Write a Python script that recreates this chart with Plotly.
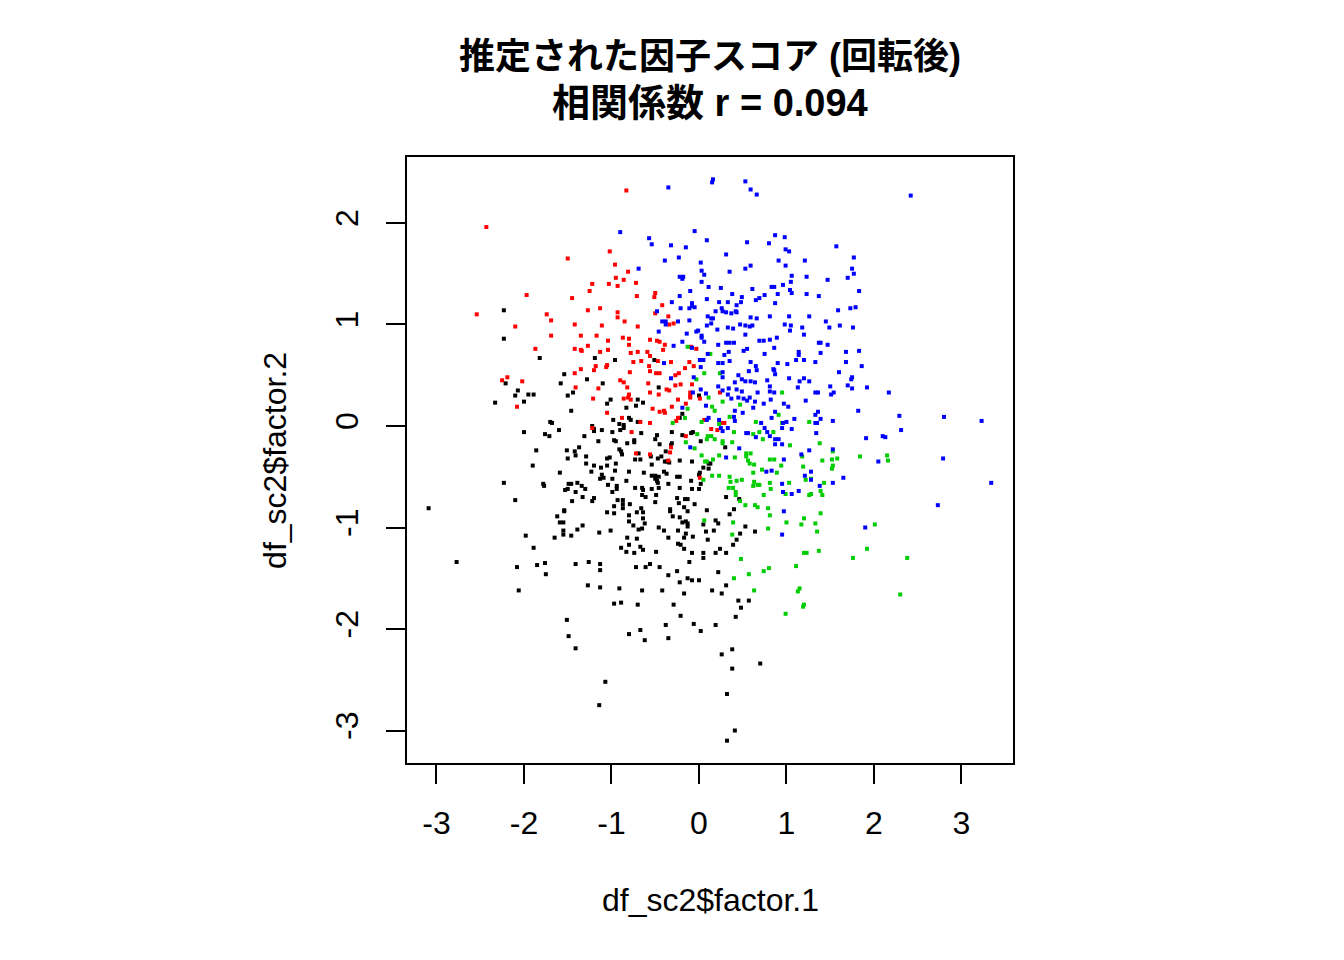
import plotly.graph_objects as go

# ---- data ----
black_x = [-2.23,-2.23,-1.82,-1.19,
 -2.21,-2.07,-2.10,-1.95,-1.89,-2.00,-2.33,-1.54,-1.58,-1.28,-1.10,-1.44,-1.50,-1.05,-1.46,-1.70,-1.68,-1.22,-1.20,-1.20,-1.11,-1.60,-2.00,-1.76,-1.71,-1.31,-1.15,-1.37,-1.86,-1.51,-1.42,-1.41,-1.50,-1.29,-1.05,-1.29,-1.20,-1.12,-1.05,-1.90,-1.23,-1.59,-1.11,-1.13,-1.09,-2.23,-1.78,-1.77,-1.49,-1.46,-1.39,-1.50,-1.53,-1.34,-1.30,-1.04,-1.41,-1.33,-1.20,-1.22,-1.45,-2.10,-3.09,-1.54,-1.54,-1.05,-1.62,-1.59,-1.55,-1.33,-1.55,-1.55,-1.39,-1.14,-1.98,-1.65,-1.46,-1.89,
 -2.77,-2.08,-1.85,-1.76,-1.75,-1.41,-1.26,-1.13,-1.13,-2.06,-1.27,-1.13,-1.51,-1.49,-1.41,-1.07,-1.14,
 -0.72,-0.61,-0.56,-0.45,-0.35,-0.25,-0.11,-0.22,-0.13,-0.08,0.00,0.22,0.31,-0.91,-0.65,-0.42,-0.17,0.15,0.26,-0.97,-0.89,-0.70,-0.29,0.45,0.57,0.48,0.42,-0.21,-0.38,-0.06,0.19,-0.67,0.02,-0.80,-0.62,-0.35,0.38,0.26,0.38,0.70,0.32,0.41,0.32,
 -0.96,-0.51,-0.46,-1.01,-0.70,-0.64,-0.72,-0.83,0.00,-0.19,-0.98,-0.80,-0.78,-0.70,-0.22,-0.91,-0.86,
 -0.99,-0.90,-0.86,-0.66,-0.48,-0.50,-0.31,-0.19,-0.09,-0.07,-0.97,-0.95,-0.74,-0.74,-0.82,-0.45,-0.31,-0.32,0.02,0.30,-0.91,-0.89,-0.88,-0.69,-0.38,-0.43,-0.47,-0.55,-1.02,-0.73,-0.67,-0.08,-0.39,-0.37,-0.34,-0.22,-0.95,-0.54,0.11,0.13,0.11,0.05,0.01,0.00,-0.63,-0.96,-0.80,-0.54,-0.50,-0.46,-0.40,-0.37,-0.25,-0.22,-0.09,-0.99,-0.83,-0.50,-0.48,-0.47,-0.35,-0.94,-0.94,-0.73,-0.65,-0.64,-0.54,-0.46,-0.22,-0.08,0.00,0.02,-0.99,
 -0.93,-0.87,-0.87,-0.97,-0.87,-0.79,-0.65,-0.61,-0.49,-0.50,-0.25,-0.16,-0.13,-0.05,-0.23,-0.97,-0.80,-0.66,-0.64,-0.64,-0.71,-0.80,-0.75,-0.62,-1.01,-0.69,-0.65,-0.46,-0.40,-0.33,-0.33,-0.30,-0.22,-0.17,-0.13,-0.15,-0.13,-0.13,-0.19,-0.24,-0.15,-0.35,-0.17,-0.07,-0.82,-0.71,-0.80,-0.89,-0.67,-0.64,-0.83,-0.74,-0.49,-0.24,-0.21,-0.17,-0.08,0.05,0.05,0.09,0.05,0.08,0.10,0.17,0.19,0.22,0.24,0.19,0.31,0.31,0.35,0.40,0.46,0.53,0.47,0.43,0.39,0.64]
black_y = [1.14,0.86,0.67,0.67,
 0.42,0.35,0.30,0.31,0.31,0.24,0.23,0.51,0.42,0.46,0.42,0.33,0.30,0.22,0.15,0.04,0.03,0.00,-0.05,-0.03,-0.04,-0.04,-0.06,-0.08,-0.10,-0.10,-0.15,-0.21,-0.24,-0.24,-0.25,-0.29,-0.32,-0.30,-0.32,-0.37,-0.39,-0.41,-0.39,-0.39,-0.45,-0.46,-0.48,-0.52,-0.51,-0.56,-0.57,-0.59,-0.57,-0.57,-0.56,-0.62,-0.63,-0.59,-0.62,-0.58,-0.65,-0.70,-0.71,-0.74,-0.74,-0.73,-0.81,-0.83,-0.84,-0.85,-0.89,-0.95,-0.95,-0.98,-1.03,-1.07,-1.02,-1.05,-1.08,-1.10,-1.08,-1.20,
 -1.34,-1.39,-1.37,-1.35,-1.46,-1.36,-1.34,-1.36,-1.42,-1.62,-1.57,-1.59,-1.91,-2.07,-2.19,-2.52,-2.75,
 -1.39,-1.39,-1.36,-1.39,-1.47,-1.43,-1.34,-1.54,-1.50,-1.52,-1.52,-1.44,-1.57,-1.60,-1.62,-1.62,-1.65,-1.62,-1.65,-1.75,-1.74,-1.76,-1.76,-1.72,-1.72,-1.79,-1.88,-1.87,-1.96,-1.95,-1.96,-2.01,-2.02,-2.05,-2.11,-2.09,-2.20,-2.25,-2.39,-2.34,-2.64,-3.00,-3.10,
 0.65,0.65,0.38,0.26,0.26,0.23,0.20,0.18,0.30,0.12,0.06,0.08,0.06,0.04,0.08,0.02,0.01,
 -0.06,-0.04,-0.02,-0.07,-0.09,-0.13,-0.06,-0.09,-0.07,-0.06,-0.14,-0.15,-0.14,-0.16,-0.17,-0.18,-0.17,-0.19,-0.15,-0.21,-0.23,-0.25,-0.28,-0.27,-0.25,-0.30,-0.32,-0.30,-0.31,-0.33,-0.33,-0.35,-0.35,-0.35,-0.36,-0.34,-0.37,-0.38,-0.37,-0.37,-0.42,-0.41,-0.46,-0.48,-0.46,-0.44,-0.45,-0.49,-0.49,-0.50,-0.45,-0.47,-0.50,-0.50,-0.54,-0.52,-0.54,-0.52,-0.54,-0.56,-0.57,-0.59,-0.62,-0.61,-0.61,-0.63,-0.62,-0.61,-0.61,-0.62,-0.62,-0.57,-0.65,
 -0.73,-0.73,-0.77,-0.79,-0.81,-0.77,-0.68,-0.70,-0.68,-0.75,-0.71,-0.72,-0.72,-0.77,-0.76,-0.86,-0.88,-0.81,-0.85,-0.91,-0.85,-0.94,-0.98,-0.96,-1.03,-1.02,-1.01,-1.00,-1.03,-0.82,-0.84,-0.89,-0.90,-0.80,-0.84,-0.94,-0.96,-0.99,-0.95,-1.03,-1.06,-1.10,-1.10,-1.09,-1.10,-1.11,-1.17,-1.20,-1.19,-1.22,-1.24,-1.25,-1.24,-1.16,-1.17,-1.21,-1.25,-1.25,-1.30,-0.83,-0.97,-1.04,-1.12,-1.03,-0.93,-0.96,-1.21,-1.25,-1.25,-0.70,-0.87,-0.82,-0.72,-0.99,-1.06,-1.12,-1.17,-1.04]

red_x = [-2.43,-1.50,-1.22,-1.03,-1.25,-1.97,-1.45,-2.54,-1.74,-1.27,-1.13,-1.69,-1.42,-1.11,-2.10,-1.69,-1.35,-1.17,-1.27,-1.04,-1.87,-1.42,-1.35,-1.34,-1.13,-1.04,
 -0.83,-1.02,-0.96,-0.81,-0.95,-0.86,-0.72,-0.93,-0.50,-0.51,-0.71,-0.42,-0.50,-0.93,-0.93,-0.35,-0.85,-0.34,-0.29,-0.70,-0.87,-0.80,-0.56,-0.48,-0.45,-0.80,-0.39,-0.09,-0.03,-0.70,-0.59,-0.41,-0.78,-0.56,
 -2.25,-2.19,-2.02,-2.08,-1.42,-1.35,-1.20,-1.18,-1.06,-1.05,-1.41,-1.15,-1.21,-1.05,-1.22,
 -0.75,-0.66,-0.47,-0.32,-0.11,-0.57,-0.16,-0.06,-0.79,-0.56,-0.49,-0.45,-0.23,-0.27,-0.90,-0.86,-0.58,-0.27,-0.21,-0.08,-0.82,-0.37,-0.34,-0.56,-0.46,-0.80,-0.10,-0.10,-0.10,0.24,-0.86,-0.81,-0.78,-0.53,-0.31,-0.24,0.01,-0.15,-0.40,-0.45,-0.39,-0.88,-0.67,-0.56,-0.26,-0.24,0.06,0.29,0.25,
 -0.77,-0.15,0.14,0.21,-0.32,-0.72,-0.56,-0.33,-0.35,0.01]
red_y = [1.96,1.65,1.40,1.40,1.33,1.29,1.26,1.10,1.10,1.14,1.16,1.04,1.00,0.99,0.98,0.89,0.89,0.89,0.79,0.84,0.76,0.76,0.75,0.74,0.73,0.75,
 2.32,1.72,1.59,1.52,1.46,1.44,1.41,1.38,1.31,1.27,1.28,1.19,1.11,1.12,1.07,1.08,1.03,1.00,1.01,0.98,0.87,0.86,0.85,0.84,0.83,0.80,0.80,0.78,0.76,0.73,0.73,0.75,0.72,0.69,
 0.45,0.48,0.44,0.19,0.52,0.56,0.55,0.59,0.58,0.60,0.38,0.37,0.27,0.13,-0.02,
 0.63,0.64,0.64,0.63,0.63,0.59,0.57,0.59,0.53,0.54,0.52,0.52,0.52,0.50,0.45,0.43,0.42,0.40,0.41,0.41,0.38,0.36,0.35,0.33,0.31,0.31,0.33,0.30,0.28,0.33,0.27,0.28,0.26,0.17,0.19,0.26,0.27,0.22,0.15,0.14,0.13,0.08,0.04,0.03,0.05,0.08,0.06,0.03,0.03,
 -0.06,-0.10,-0.03,-0.04,-0.21,-0.27,-0.28,-0.26,-0.34,-0.51]

green_x = [-0.13,0.13,
 0.06,0.24,-0.03,0.95,0.11,-0.13,0.15,0.18,0.27,0.47,0.91,-0.30,-0.16,0.03,0.23,0.35,0.65,0.95,1.26,
 -0.02,0.10,0.14,0.09,0.18,0.40,0.62,0.69,0.85,0.73,0.27,0.27,0.38,1.04,-0.15,-0.05,0.03,0.16,0.23,0.41,0.54,0.59,0.54,0.81,0.86,1.18,0.07,0.09,0.56,0.58,0.63,0.94,1.19,0.05,0.15,0.23,0.35,0.36,0.43,0.49,0.62,0.72,0.89,1.22,1.28,0.63,0.67,0.62,0.69,0.81,1.03,0.34,0.39,0.42,0.82,
 0.42,0.47,0.53,0.64,0.67,0.74,0.79,0.81,0.99,1.26,0.06,0.39,0.38,0.79,1.00,1.20,1.17,1.20,1.23,0.48,
 1.38,1.53,1.41,1.52,1.58,1.84,2.15,2.16,1.53,1.52,1.43,1.39,1.41,1.28,1.39,1.33,2.01,1.35,1.37,1.92,1.76,2.38,
 0.40,0.57,0.74,0.80,1.11,0.63,1.15,1.13,1.20,1.19,0.99,2.30]
green_y = [0.78,0.71,
 0.52,0.52,0.46,0.33,0.28,0.17,0.19,0.15,0.24,0.21,0.11,0.03,0.08,0.04,0.02,0.09,0.04,0.03,0.04,
 -0.08,-0.10,-0.10,-0.13,-0.13,-0.06,-0.08,-0.06,-0.06,-0.13,-0.15,-0.17,-0.16,-0.19,-0.16,-0.22,-0.29,-0.33,-0.29,-0.31,-0.27,-0.27,-0.30,-0.33,-0.33,-0.30,-0.35,-0.35,-0.34,-0.37,-0.38,-0.39,-0.40,-0.53,-0.49,-0.49,-0.50,-0.55,-0.54,-0.53,-0.46,-0.43,-0.46,-0.53,-0.52,-0.55,-0.58,-0.59,-0.58,-0.56,-0.56,-0.61,-0.61,-0.65,-0.62,
 -0.68,-0.74,-0.78,-0.78,-0.80,-0.68,-0.81,-0.88,-0.67,-0.68,-0.93,-0.95,-1.07,-1.01,-0.95,-0.91,-0.97,-1.25,-1.25,-1.31,
 -0.17,-0.25,-0.34,-0.33,-0.32,-0.30,-0.29,-0.34,-0.39,-0.42,-0.56,-0.64,-0.68,-0.67,-0.86,-0.96,-0.97,-1.04,-1.23,-1.21,-1.30,-1.30,
 -1.50,-1.46,-1.43,-1.40,-1.38,-1.62,-1.60,-1.63,-1.76,-1.78,-1.85,-1.66]

blue_x = [0.16,0.15,0.53,0.59,0.66,-0.35,-0.90,-0.57,-0.54,-0.32,-0.15,-0.05,0.09,0.55,0.80,0.87,0.98,0.99,1.03,0.31,-0.39,-0.23,0.02,0.91,0.99,1.21,-0.69,0.03,0.06,0.35,0.53,0.59,-0.22,-0.18,-0.19,0.03,1.06,1.23,1.05,0.11,0.25,0.61,0.83,0.86,0.96,1.04,1.06,1.23,-0.10,-0.22,0.38,0.49,0.75,0.90,0.69,0.65,-0.31,-0.08,0.09,0.23,0.33,0.48,0.43,0.87,-0.08,-0.05,-0.11,-0.21,-0.48,0.26,0.27,0.31,0.37,0.42,0.43,0.19,0.10,0.14,0.16,0.59,0.66,0.81,1.03,1.26,-0.42,-0.38,-0.38,-0.24,-0.11,0.09,0.14,0.47,0.53,0.58,0.61,0.98,1.05,0.21,0.33,0.39,1.18,1.04,-0.46,-0.14,-0.03,-0.01,0.03,0.03,0.53,1.20,0.89,-0.19,0.06,0.31,0.35,0.40,0.69,0.74,0.81,-0.29,0.22,0.86,-0.08,0.10,0.29,0.34,0.51,0.55,0.75,1.14,1.14,
 2.42,1.57,1.77,1.75,1.77,1.70,1.47,1.83,1.37,1.59,1.73,1.79,1.45,1.49,1.61,1.76,1.37,1.39,1.47,1.39,1.68,1.83,
 1.33,1.68,1.86,1.60,1.75,1.74,1.50,1.70,1.75,1.92,1.33,1.36,1.54,1.51,2.17,1.82,1.36,1.33,1.39,1.53,1.33,1.35,2.29,2.80,3.23,2.31,1.34,1.91,2.10,2.13,1.53,2.05,2.79,1.28,1.28,1.65,1.53,1.38,3.34,2.73,1.90,
 -0.40,0.01,0.05,0.22,0.27,0.35,0.59,0.90,1.01,1.11,1.20,0.02,0.65,0.85,0.27,0.45,0.57,0.66,0.86,0.87,1.03,1.20,1.15,1.26,-0.32,-0.06,0.27,0.41,0.49,0.53,0.59,0.64,0.78,0.02,0.22,0.27,0.34,0.43,0.49,0.81,0.81,0.86,1.13,0.67,-0.07,0.08,0.33,0.45,0.51,0.55,0.58,0.64,0.74,0.82,0.97,1.02,1.22,-0.19,0.08,0.37,0.41,0.50,0.62,0.87,0.83,0.11,0.09,0.23,0.40,0.41,0.71,0.96,1.00,1.09,
 0.25,0.27,0.33,0.56,0.54,0.65,0.75,0.78,0.81,0.87,0.91,0.95,1.06,0.46,0.87,0.95,-0.10,0.31,0.97,1.17,1.26,0.77,0.83,1.21,0.95,0.96,1.14,
 0.97,1.06,0.95]
blue_y = [2.43,2.40,2.41,2.33,2.28,2.35,1.91,1.85,1.79,1.78,1.76,1.92,1.83,1.81,1.80,1.88,1.86,1.74,1.72,1.69,1.63,1.66,1.61,1.63,1.58,1.63,1.55,1.53,1.49,1.52,1.55,1.58,1.47,1.47,1.45,1.42,1.48,1.47,1.42,1.37,1.36,1.35,1.37,1.37,1.39,1.34,1.31,1.30,1.33,1.28,1.30,1.27,1.29,1.30,1.26,1.24,1.22,1.21,1.25,1.22,1.22,1.22,1.19,1.21,1.18,1.17,1.16,1.16,1.13,1.16,1.13,1.12,1.11,1.13,1.12,1.13,1.08,1.06,1.06,1.07,1.06,1.08,1.08,1.08,1.03,1.03,1.00,1.03,1.04,0.99,1.01,1.00,0.99,0.98,0.99,1.00,0.99,0.95,0.97,0.96,0.97,0.94,0.93,0.91,0.93,0.94,0.89,0.87,0.90,0.90,0.87,0.83,0.83,0.82,0.82,0.82,0.84,0.84,0.85,0.79,0.80,0.77,0.77,0.71,0.70,0.73,0.74,0.76,0.71,0.73,0.70,
 2.27,1.77,1.66,1.55,1.50,1.46,1.44,1.33,1.28,1.14,1.16,1.17,1.03,0.97,0.99,0.97,0.82,0.82,0.80,0.72,0.73,0.74,
 0.63,0.63,0.59,0.53,0.48,0.46,0.39,0.40,0.37,0.38,0.33,0.33,0.33,0.31,0.33,0.15,0.14,0.11,0.07,0.05,0.03,0.03,0.10,0.09,0.05,-0.04,-0.07,-0.12,-0.10,-0.11,-0.23,-0.35,-0.32,-0.45,-0.53,-0.51,-0.56,-0.59,-0.56,-0.78,-1.00,
 0.62,0.65,0.65,0.62,0.62,0.64,0.63,0.62,0.61,0.65,0.65,0.58,0.59,0.56,0.53,0.50,0.54,0.55,0.55,0.51,0.47,0.47,0.44,0.44,0.47,0.48,0.48,0.43,0.46,0.44,0.44,0.43,0.45,0.36,0.39,0.35,0.37,0.36,0.34,0.39,0.34,0.33,0.38,0.33,0.33,0.32,0.31,0.28,0.27,0.25,0.28,0.24,0.22,0.26,0.22,0.19,0.25,0.18,0.20,0.27,0.15,0.13,0.18,0.14,0.08,0.08,0.06,0.06,0.09,0.05,0.03,0.03,0.04,0.07,
 -0.02,-0.05,-0.02,-0.07,-0.07,-0.11,-0.02,-0.06,-0.10,-0.13,-0.13,-0.02,-0.03,-0.22,-0.18,-0.18,-0.21,-0.31,-0.33,-0.28,-0.24,-0.45,-0.44,-0.49,-0.57,-0.65,-0.64,
 -0.84,-0.67,-1.07]

x_ticks = [-3, -2, -1, 0, 1, 2, 3]
x_tick_labels = ["-3", "-2", "-1", "0", "1", "2", "3"]
y_ticks = [-3, -2, -1, 0, 1, 2]
y_tick_labels = ["-3", "-2", "-1", "0", "1", "2"]
title_line1 = "推定された因子スコア (回転後)"
title_line2 = "相関係数 r = 0.094"
x_label = "df_sc2$factor.1"
y_label = "df_sc2$factor.2"

groups = [
    (black_x, black_y, "#000000"),
    (red_x, red_y, "#FF0000"),
    (green_x, green_y, "#00CD00"),
    (blue_x, blue_y, "#0000FF"),
]

fig = go.Figure()
for gx, gy, col in groups:
    fig.add_trace(go.Scatter(
        x=gx, y=gy, mode="markers",
        marker=dict(symbol="square", size=4, color=col, line=dict(width=0)),
        showlegend=False, hoverinfo="skip",
    ))

font_main = "Liberation Sans, Arial, Noto Sans CJK JP, sans-serif"

axis_common = dict(
    showgrid=False, zeroline=False, showline=True, mirror=True,
    linecolor="black", linewidth=1.6,
    ticks="outside", ticklen=19, tickwidth=1.6, tickcolor="black",
    tickfont=dict(family=font_main, size=32, color="black"),
)

fig.update_layout(
    width=1344, height=960,
    margin=dict(l=407, r=331, t=157, b=197, pad=0),
    paper_bgcolor="white", plot_bgcolor="white",
    xaxis=dict(range=[-3.337, 3.589], tickvals=x_ticks, ticktext=x_tick_labels,
               ticklabelstandoff=12, **axis_common),
    yaxis=dict(range=[-3.320, 2.650], tickvals=y_ticks, ticktext=y_tick_labels,
               tickangle=-90, ticklabelstandoff=15, **axis_common),
    annotations=[
        dict(text="<b>" + title_line1 + "</b>", xref="paper", yref="paper", x=0.5, y=1.166,
             xanchor="center", yanchor="middle", showarrow=False,
             font=dict(family=font_main, size=36, color="black")),
        dict(text="<b>" + title_line2 + "</b>", xref="paper", yref="paper", x=0.5, y=1.089,
             xanchor="center", yanchor="middle", showarrow=False,
             font=dict(family=font_main, size=38, color="black")),
        dict(text=x_label, xref="paper", yref="paper", x=0.5, y=-0.226,
             xanchor="center", yanchor="middle", showarrow=False,
             font=dict(family=font_main, size=32, color="black")),
        dict(text=y_label, xref="paper", yref="paper", x=-0.218, y=0.5, textangle=-90,
             xanchor="center", yanchor="middle", showarrow=False,
             font=dict(family=font_main, size=32, color="black")),
    ],
)

fig.write_html("out.html", config={"displayModeBar": False},
               post_script="document.body.style.margin='0';")
